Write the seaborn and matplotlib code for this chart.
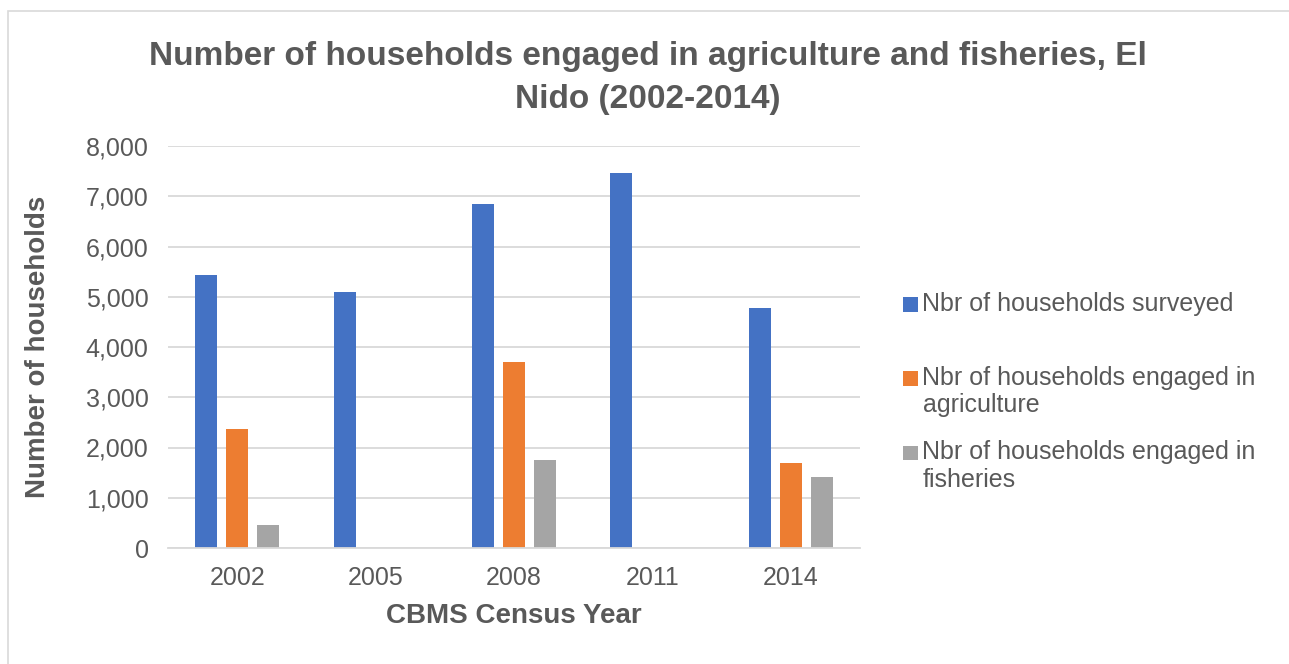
import numpy as np
import pandas as pd
import matplotlib
matplotlib.use("Agg")
import matplotlib.pyplot as plt
import seaborn as sns
from matplotlib.patches import Rectangle, Patch
from matplotlib.legend_handler import HandlerPatch
from matplotlib.ticker import FuncFormatter

# ---- data ----
years = ["2002", "2005", "2008", "2011", "2014"]
surveyed = [5434, 5100, 6840, 7455, 4771]
agriculture = [2366, np.nan, 3711, np.nan, 1696]
fisheries = [464, np.nan, 1750, np.nan, 1412]
series_names = ["Nbr of households surveyed",
                "Nbr of households engaged in agriculture",
                "Nbr of households engaged in fisheries"]
legend_labels = ["Nbr of households surveyed\n ",
                 "Nbr of households engaged in\nagriculture",
                 "Nbr of households engaged in\nfisheries"]
colors = ["#4472C4", "#ED7D31", "#A5A5A5"]
yticks = [0, 1000, 2000, 3000, 4000, 5000, 6000, 7000, 8000]
title_lines = ["Number of households engaged in agriculture and fisheries, El",
               "Nido (2002-2014)"]
xlabel = "CBMS Census Year"
ylabel = "Number of households"

df = pd.DataFrame({
    "year": years * 3,
    "series": np.repeat(series_names, len(years)),
    "value": surveyed + agriculture + fisheries,
})

sns.set_theme(style="white")
plt.rcParams['font.family'] = ['Liberation Sans', 'DejaVu Sans']
TXT = "#595959"
GRID = "#D9D9D9"

W, H = 1289, 664
fig = plt.figure(figsize=(W / 100, H / 100), dpi=100)
ax = fig.add_axes([168 / W, 116 / H, 692 / W, 402 / H])

sns.barplot(data=df, x="year", y="value", hue="series", order=years,
            hue_order=series_names, palette=colors, width=0.672, gap=0.29,
            errorbar=None, saturation=1, linewidth=0, legend=False, ax=ax)

ax.set_ylim(0, 8000)
ax.set_xlim(-0.5, 4.5)
ax.set_yticks(yticks)
ax.yaxis.set_major_formatter(FuncFormatter(lambda v, p: f"{int(v):,}"))
ax.yaxis.grid(True, color=GRID, linewidth=1.3)
ax.set_axisbelow(True)
for s in ["top", "right", "left"]:
    ax.spines[s].set_visible(False)
ax.spines["bottom"].set_color(GRID)
ax.spines["bottom"].set_linewidth(1.3)
ax.tick_params(axis="y", length=0, labelsize=18, labelcolor=TXT, pad=14)
ax.tick_params(axis="x", length=0, labelsize=18, labelcolor=TXT, pad=13)

ax.set_xlabel(xlabel, fontsize=20, fontweight="bold", color=TXT)
ax.xaxis.set_label_coords(0.5, (548 - 616) / 402)
ax.xaxis.label.set_va("center")
ax.set_ylabel(ylabel, fontsize=20, fontweight="bold", color=TXT)
ax.yaxis.set_label_coords((38 - 168) / 692, 0.5)
ax.yaxis.label.set_va("center")

# title
fig.text(648 / W, 1 - 65 / H, title_lines[0], ha="center", va="baseline",
         fontsize=24, fontweight="bold", color=TXT)
fig.text(648 / W, 1 - 108 / H, title_lines[1], ha="center", va="baseline",
         fontsize=24, fontweight="bold", color=TXT)

# chart border
fig.add_artist(Rectangle((8 / W, -0.1), 1.2, 0.1 + (H - 11) / H,
                         transform=fig.transFigure, fill=False,
                         edgecolor=GRID, linewidth=1.2))

# legend: square aligned with first line of each label
def square(legend, orig_handle, xdescent, ydescent, width, height, fontsize):
    s = 10.5
    cy = height / 2 - ydescent + 10.0
    return Rectangle((-xdescent, cy - s / 2), s, s)

handles = [Patch(facecolor=c, edgecolor="none") for c in colors]
leg = fig.legend(handles, legend_labels, loc="upper left",
                 bbox_to_anchor=(903 / W, 1 - 292 / H), frameon=False,
                 fontsize=18, handlelength=0.58, handletextpad=0.2,
                 labelspacing=0.92, borderpad=0, borderaxespad=0,
                 handler_map={Patch: HandlerPatch(patch_func=square)})
for t in leg.get_texts():
    t.set_color(TXT)
    t.set_linespacing(1.17)

fig.savefig("out.png", dpi=100)
